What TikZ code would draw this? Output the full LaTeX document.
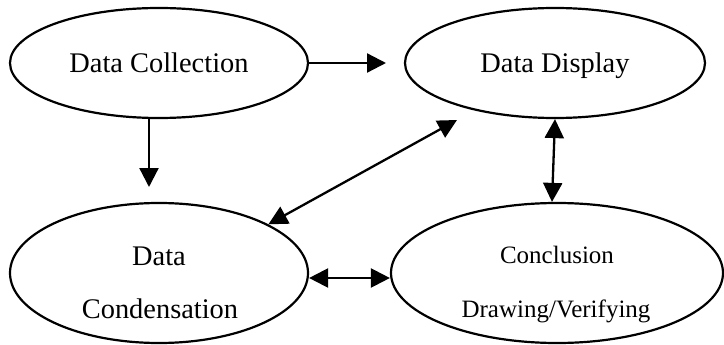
\documentclass[tikz,border=0pt]{standalone}
\usepackage{fontspec}
\setmainfont{Liberation Serif}
\usetikzlibrary{shapes.geometric,arrows.meta}
\begin{document}
\begin{tikzpicture}[x=1pt,y=-1pt,
  oval/.style={ellipse,draw,line width=2.2pt,fill=white,inner sep=0pt},
  lbl/.style={anchor=base,inner sep=0pt,font=\fontsize{28.4}{34}\selectfont},
  lbls/.style={anchor=base,inner sep=0pt,font=\fontsize{25}{30}\selectfont},
  conn/.style={line width=2.3pt,-{Triangle[length=19pt,width=19pt]}},
  biconn/.style={line width=2.3pt,{Triangle[length=19pt,width=19pt]}-{Triangle[length=19pt,width=19pt]}}]
\useasboundingbox (0,0) rectangle (724,345);
% ellipses
\node[oval,minimum width=298pt,minimum height=110pt] (coll) at (159,63) {};
\node[oval,minimum width=300pt,minimum height=110pt] (disp) at (555,63) {};
\node[oval,minimum width=298pt,minimum height=140pt] (cond) at (159,273) {};
\node[oval,minimum width=332pt,minimum height=140pt] (conc) at (557,273) {};
% labels
\node[lbl] (tcoll) at (159,73) {Data Collection};
\node[lbl] (tdisp) at (555,73) {Data Display};
\node[lbl] (tcond1) at (159,265) {Data};
\node[lbl] (tcond2) at (160,318) {Condensation};
\node[lbls] (tconc1) at (557,263) {Conclusion};
\node[lbls] (tconc2) at (556,317) {Drawing/Verifying};
% free ends
\coordinate (e1) at (386,63);
\coordinate (e2) at (149,187);
\coordinate (e4) at (457,120);
% connectors
\draw[conn] (coll.east) -- (e1);
\draw[conn] ([xshift=-10pt]coll.south) -- (e2);
\draw[biconn] (disp.south) -- ([xshift=-5pt]conc.north);
\draw[biconn] (cond.24) -- (e4);
\draw[biconn] ([yshift=-5pt]cond.east) -- ([yshift=-5pt]conc.west);
\end{tikzpicture}
\end{document}
